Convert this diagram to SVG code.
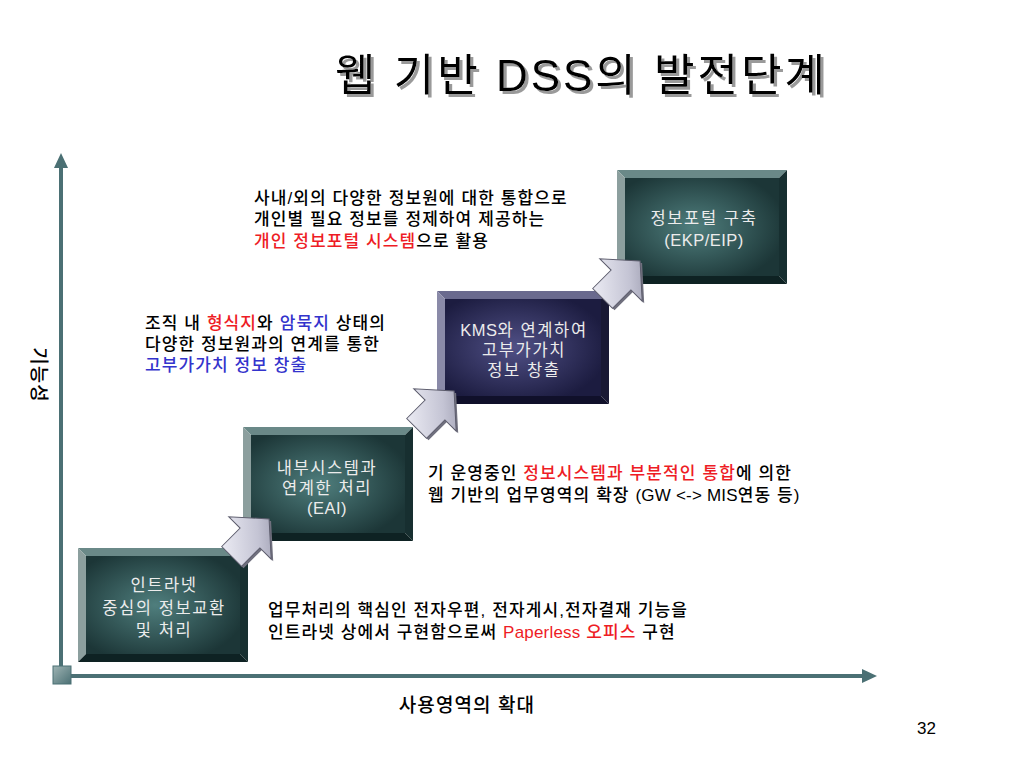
<svg xmlns="http://www.w3.org/2000/svg" xmlns:xlink="http://www.w3.org/1999/xlink" width="1024" height="768" viewBox="0 0 1024 768">
<style>
.t{font-family:"Liberation Sans","Noto Sans CJK KR",sans-serif;font-size:17px;font-weight:500;letter-spacing:1.1px;fill:#000}
.r{fill:#ee1c25}
.b{fill:#3333cc}
.l{letter-spacing:0.2px}
.bx{font-family:"Liberation Sans","Noto Sans CJK KR",sans-serif;font-size:16.5px;letter-spacing:1.6px;fill:#ececec;text-anchor:middle}
.ttl{font-family:"Liberation Sans","Noto Sans CJK KR",sans-serif;font-size:44px;letter-spacing:3px;fill:#000}
.axis{stroke:#4b7074;stroke-width:4;fill:none}
.arw{fill:url(#gArrow);stroke:#5c5c6c;stroke-width:1}
.arwd{fill:#70707e}
</style>
<defs>
<filter id="shadow" x="-5%" y="-20%" width="110%" height="140%">
<feOffset in="SourceAlpha" dx="3" dy="3" result="off"/>
<feFlood flood-color="#9a9a9a"/>
<feComposite in2="off" operator="in" result="sh"/>
<feMerge><feMergeNode in="sh"/><feMergeNode in="SourceGraphic"/></feMerge>
</filter>
<radialGradient id="gTeal" cx="0.45" cy="0.5" r="0.6">
<stop offset="0" stop-color="#4f7e7d"/>
<stop offset="1" stop-color="#1c3637"/>
</radialGradient>
<radialGradient id="gBlue" cx="0.45" cy="0.5" r="0.6">
<stop offset="0" stop-color="#505086"/>
<stop offset="1" stop-color="#1c1c40"/>
</radialGradient>
<linearGradient id="gArrow" x1="0" y1="0" x2="1" y2="1">
<stop offset="0" stop-color="#f6f6fc"/>
<stop offset="0.6" stop-color="#c4c4d4"/>
<stop offset="1" stop-color="#8c8ca0"/>
</linearGradient>
<linearGradient id="gSq" x1="0" y1="0" x2="1" y2="1">
<stop offset="0" stop-color="#9fb4b4"/>
<stop offset="1" stop-color="#4b7074"/>
</linearGradient>
<g id="boxTeal">
<rect x="8" y="8" width="154" height="98" fill="url(#gTeal)"/>
<polygon points="0,0 170,0 162,8 8,8" fill="#6a8988"/>
<polygon points="0,0 8,8 8,106 0,114" fill="#8c9f9e"/>
<polygon points="170,0 170,114 162,106 162,8" fill="#172f30"/>
<polygon points="0,114 170,114 162,106 8,106" fill="#0e2223"/>
</g>
<g id="boxBlue">
<rect x="8" y="8" width="156" height="97" fill="url(#gBlue)"/>
<polygon points="0,0 172,0 164,8 8,8" fill="#6a6a8e"/>
<polygon points="0,0 8,8 8,105 0,113" fill="#8a8aa8"/>
<polygon points="172,0 172,113 164,105 164,8" fill="#191934"/>
<polygon points="0,113 172,113 164,105 8,105" fill="#10102a"/>
</g>
<path id="arrowShape" d="M-26,-14 L0,-14 L0,-30 L27,0 L0,30 L0,14 L-26,14 Z"/>
</defs>
<rect width="1024" height="768" fill="#ffffff"/>

<g id="title">
<text class="ttl" x="335" y="91" filter="url(#shadow)">웹 기반 DSS의 발전단계</text>
</g>

<g id="axes">
<line class="axis" x1="61" y1="166" x2="61" y2="668"/>
<polygon points="61,153 54,168 68,168" fill="#4b7074"/>
<line class="axis" x1="70" y1="676" x2="864" y2="676"/>
<polygon points="877,676 862,669 862,683" fill="#4b7074"/>
<rect x="53" y="666" width="18" height="18" fill="url(#gSq)" stroke="#4b7074" stroke-width="1"/>
<text class="t" x="0" y="0" transform="translate(32,375) rotate(90)" text-anchor="middle" style="font-size:19px">기능성</text>
<text class="t" x="467" y="712" text-anchor="middle" style="font-size:19px">사용영역의 확대</text>
</g>

<g id="node1">
<use xlink:href="#boxTeal" x="78" y="548"/>
<text class="bx" x="164" y="591">인트라넷</text>
<text class="bx" x="164" y="614">중심의 정보교환</text>
<text class="bx" x="164" y="636">및 처리</text>
</g>
<g id="node2">
<use xlink:href="#boxTeal" x="243" y="427"/>
<text class="bx" x="327" y="474">내부시스템과</text>
<text class="bx" x="327" y="494">연계한 처리</text>
<text class="bx" x="327" y="514" style="letter-spacing:0.5px">(EAI)</text>
</g>
<g id="node3">
<use xlink:href="#boxBlue" x="437" y="291"/>
<text class="bx" x="524" y="336"><tspan style="letter-spacing:0.5px">KMS</tspan>와 연계하여</text>
<text class="bx" x="524" y="356">고부가가치</text>
<text class="bx" x="524" y="376">정보 창출</text>
</g>
<g id="node4">
<use xlink:href="#boxTeal" x="617" y="170"/>
<text class="bx" x="704" y="224">정보포털 구축</text>
<text class="bx" x="704" y="246" style="letter-spacing:0.5px">(EKP/EIP)</text>
</g>

<g id="connectors">
<g transform="translate(252,540)"><use xlink:href="#arrowShape" class="arwd" transform="rotate(-45)"/></g>
<g transform="translate(250,538)"><use xlink:href="#arrowShape" class="arw" transform="rotate(-45)"/></g>
<g transform="translate(437,412)"><use xlink:href="#arrowShape" class="arwd" transform="rotate(-45)"/></g>
<g transform="translate(435,410)"><use xlink:href="#arrowShape" class="arw" transform="rotate(-45)"/></g>
<g transform="translate(623,282)"><use xlink:href="#arrowShape" class="arwd" transform="rotate(-45)"/></g>
<g transform="translate(621,280)"><use xlink:href="#arrowShape" class="arw" transform="rotate(-45)"/></g>
</g>

<g id="note-portal">
<text class="t" x="254" y="204">사내/외의 다양한 정보원에 대한 통합으로</text>
<text class="t" x="254" y="225">개인별 필요 정보를 정제하여 제공하는</text>
<text class="t" x="254" y="247"><tspan class="r">개인 정보포털 시스템</tspan>으로 활용</text>
</g>
<g id="note-kms">
<text class="t" x="145" y="329">조직 내 <tspan class="r">형식지</tspan>와 <tspan class="b">암묵지</tspan> 상태의</text>
<text class="t" x="145" y="350">다양한 정보원과의 연계를 통한</text>
<text class="t" x="145" y="371"><tspan class="b">고부가가치 정보 창출</tspan></text>
</g>
<g id="note-eai">
<text class="t" x="428" y="479">기 운영중인 <tspan class="r">정보시스템과 부분적인 통합</tspan>에 의한</text>
<text class="t" x="428" y="501">웹 기반의 업무영역의 확장 <tspan class="l">(GW &lt;-&gt; MIS</tspan>연동 등)</text>
</g>
<g id="note-intranet">
<text class="t" x="268" y="616">업무처리의 핵심인 전자우편, 전자게시,전자결재 기능을</text>
<text class="t" x="268" y="638">인트라넷 상에서 구현함으로써 <tspan class="r"><tspan class="l">Paperless</tspan> 오피스</tspan> 구현</text>
</g>

<text id="page" x="936" y="734" text-anchor="end" style="font-family:'Liberation Sans',sans-serif;font-size:17px;fill:#000">32</text>
</svg>
